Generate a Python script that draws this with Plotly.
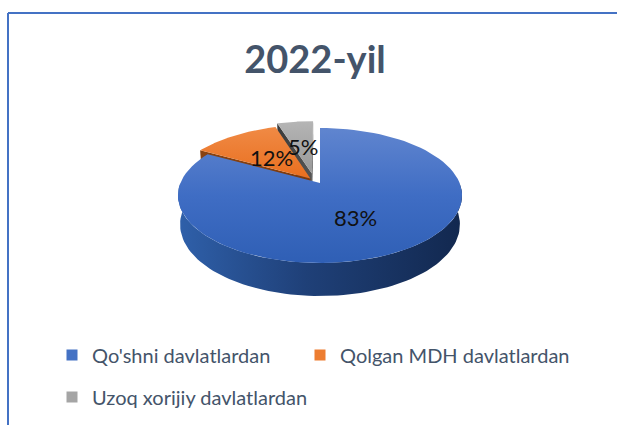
import math
import plotly.graph_objects as go

categories = ["Qo'shni davlatlardan", "Qolgan MDH davlatlardan", "Uzoq xorijiy davlatlardan"]
values = [83, 12, 5]
title_text = "2022-yil"

legend_colors = ["#4472c4", "#ed7d31", "#a5a5a5"]
top_gradients = [
    [[0, "#2f5fb5"], [0.5, "#3f6dc4"], [1, "#6085cf"]],
    [[0, "#e96f1f"], [1, "#f08a45"]],
    [[0, "#989898"], [1, "#b5b5b5"]],
]
wall_gradients = [
    [[0, "#2f60aa"], [0.45, "#1f4078"], [1, "#12284f"]],
    [[0, "#8a4312"], [1, "#7a390e"]],
    [[0, "#3a3a3a"], [1, "#555555"]],
]
explode = [(0.0, 0.0), (-0.07, 0.07), (-0.06, 0.15)]
draw_order = [2, 1, 0]

CX, CY, RX, RY, K = 320.0, 183.0, 139.6, 65.2, 0.185


def project(x, back):
    s = 1 / (1 + K * back)
    return CX + RX * x * s, CY - RY * back * s


def lower(px, py, back):
    return CX + (px - CX) * 0.985, py + 28 - 5 * back


def arc(a0, a1, ox, oy, n=90):
    pts = []
    for i in range(n + 1):
        a = math.radians(a0 + (a1 - a0) * i / n)
        back = math.cos(a) + oy
        pts.append((math.sin(a) + ox, back))
    return pts


def poly(pts, gradient, kind):
    return go.Scatter(
        x=[p[0] for p in pts] + [pts[0][0]],
        y=[p[1] for p in pts] + [pts[0][1]],
        mode="lines",
        line=dict(width=0),
        fill="toself",
        fillgradient=dict(type=kind, colorscale=gradient),
        hoverinfo="skip",
        showlegend=False,
    )


fig = go.Figure()
total = sum(values)
starts, acc = [], 0
for v in values:
    starts.append(acc / total * 360)
    acc += v

for idx in draw_order:
    a0 = starts[idx]
    a1 = a0 + values[idx] / total * 360
    ox, oy = explode[idx]
    rim = arc(a0, a1, ox, oy)
    apex = (ox, oy)

    def P(p):
        return project(p[0], p[1])

    def L(p):
        sx, sy = P(p)
        return lower(sx, sy, p[1])

    if idx == 0:
        front = arc(90, 270, ox, oy)
        wall = [P(p) for p in front] + [L(p) for p in reversed(front)]
        fig.add_trace(poly(wall, wall_gradients[idx], "horizontal"))
    else:
        # cut face on the start side of the wedge, then the outer rim
        face = [P(apex), P(rim[0]), L(rim[0]), L(apex)]
        fig.add_trace(poly(face, wall_gradients[idx], "horizontal"))
        if idx == 2:
            face2 = [P(apex), P(rim[-1]), L(rim[-1]), L(apex)]
            fig.add_trace(poly(face2, wall_gradients[idx], "horizontal"))
    top = [P(apex)] + [P(p) for p in rim]
    fig.add_trace(poly(top, top_gradients[idx], "vertical"))

# legend entries (each placed by its own legend)
legend_ids = ["legend", "legend2", "legend3"]
for name, col, lid in zip(categories, legend_colors, legend_ids):
    fig.add_trace(go.Scatter(
        x=[None], y=[None], mode="markers", name=name,
        marker=dict(symbol="square", size=11, color=col),
        legend=lid,
        hoverinfo="skip",
    ))

label_pos = [(355, 217), (271, 157), (303, 146)]
annotations = [
    dict(x=p[0], y=p[1], xref="x", yref="y", text=f"{v}%", showarrow=False,
         font=dict(family="Lato", size=22, color="#111111"))
    for p, v in zip(label_pos, values)
]

legend_font = dict(family="Lato", size=20, color="#44546a")
legend_common = dict(
    orientation="h", xanchor="left", yanchor="middle",
    font=legend_font, bgcolor="rgba(0,0,0,0)", itemclick=False, itemdoubleclick=False,
)

fig.update_layout(
    width=617, height=425, margin=dict(l=0, r=0, t=0, b=0),
    paper_bgcolor="white", plot_bgcolor="white",
    xaxis=dict(range=[0, 617], visible=False, fixedrange=True),
    yaxis=dict(range=[425, 0], visible=False, fixedrange=True),
    title=dict(text=f"<b>{title_text}</b>", x=315 / 617, xanchor="center", y=1 - 60 / 425,
               yanchor="middle", font=dict(family="Lato", size=38, color="#44546a")),
    annotations=annotations,
    legend=dict(x=52 / 617, y=1 - 355 / 425, **legend_common),
    legend2=dict(x=300 / 617, y=1 - 355 / 425, **legend_common),
    legend3=dict(x=52 / 617, y=1 - 397 / 425, **legend_common),
    shapes=[
        dict(type="line", xref="paper", yref="paper", x0=8 / 617, x1=8 / 617, y0=0, y1=1 - 13 / 425,
             line=dict(color="#4472c4", width=2)),
        dict(type="line", xref="paper", yref="paper", x0=8 / 617, x1=1, y0=1 - 13 / 425, y1=1 - 13 / 425,
             line=dict(color="#4472c4", width=2)),
    ],
)
fig.write_html("out.html", config=dict(displayModeBar=False),
               post_script="document.body.style.margin='0';")
